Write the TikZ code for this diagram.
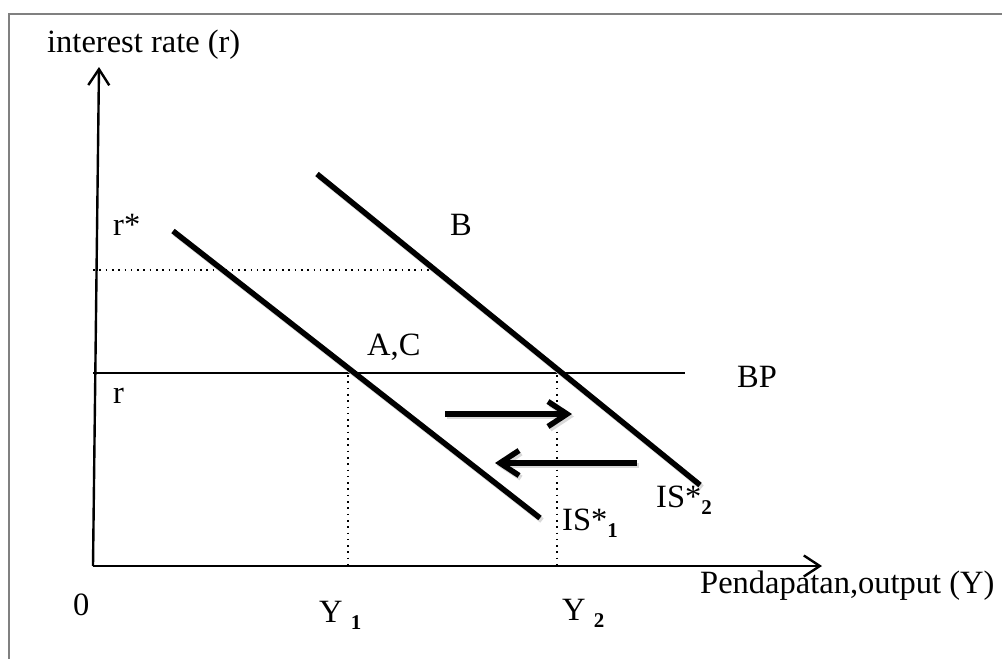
\documentclass[tikz,border=0pt]{standalone}
\usepackage{fontspec}
\setmainfont{Liberation Serif}
\usetikzlibrary{arrows.meta}

\newcommand{\lowsub}[1]{\raisebox{-7pt}{\fontsize{21}{21}\selectfont\bfseries #1}}

\begin{document}
\begin{tikzpicture}[x=1pt, y=-1pt,
    every node/.style={inner sep=0pt, anchor=base west, font=\fontsize{32.5}{38}\selectfont},
    axisline/.style={line width=2.4pt, -{Straight Barb[length=16pt, width=21pt]}},
    isline/.style={line width=5.5pt, preaction={draw=black!15, line width=5.5pt, transform canvas={shift={(2pt,-2.5pt)}}}},
    shiftarrow/.style={isline, -{Straight Barb[length=19pt, width=25pt]}},
    guide/.style={line width=1.6pt, dash pattern=on 1.6pt off 4.7pt}]
          \useasboundingbox (0,0) rectangle (1002,659);
          \draw[black!50, line width=2pt] (8.5,659) -- (8.5,13.5) -- (1002,13.5);

          \coordinate (O) at (93,566);
          \coordinate (ytip) at (99,67);
          \coordinate (xtip) at (822,566);
          \draw[axisline] (O) -- (ytip);
          \draw[axisline] (O) -- (xtip);

          \node (ylabel) at (47,52) {interest rate (r)};
          \node (xlabel) at (700,593) {Pendapatan,output (Y)};
          \node (zero) at (73,615) {0};
          \node (rstar) at (113,235) {r*};
          \node (rlow) at (113,403) {r};

          \coordinate (bpa) at (93,373);
          \coordinate (bpb) at (685,373);
          \draw[line width=1.6pt] (bpa) -- (bpb);
          \node (bplabel) at (737,387) {BP};

          \coordinate (rsa) at (93,270);
          \coordinate (rsb) at (430,270);
          \draw[guide] (rsa) -- (rsb);

          \coordinate (ytop1) at (348,375);
          \coordinate (ybot1) at (348,566);
          \coordinate (ytop2) at (557,375);
          \coordinate (ybot2) at (557,566);
          \draw[guide] (ytop1) -- (ybot1);
          \draw[guide] (ytop2) -- (ybot2);
          \node (yone) at (319,622) {Y \lowsub{1}};
          \node (ytwo) at (562,620) {Y \lowsub{2}};

          \coordinate (is1a) at (173,231);
          \coordinate (is1b) at (540,518);
          \coordinate (is2a) at (317,174);
          \coordinate (is2b) at (700,485);
          \draw[isline] (is1a) -- (is1b);
          \draw[isline] (is2a) -- (is2b);
          \node (isone) at (562,530) {IS*\lowsub{1}};
          \node (istwo) at (656,507) {IS*\lowsub{2}};

          \node (ptB) at (450,235) {B};
          \node (ptAC) at (367,355) {A,C};

          \coordinate (ra) at (445,414);
          \coordinate (rb) at (572,414);
          \coordinate (la) at (637,463);
          \coordinate (lb) at (495,463);
          \draw[shiftarrow] (ra) -- (rb);
          \draw[shiftarrow] (la) -- (lb);
        \end{tikzpicture}
\end{document}
